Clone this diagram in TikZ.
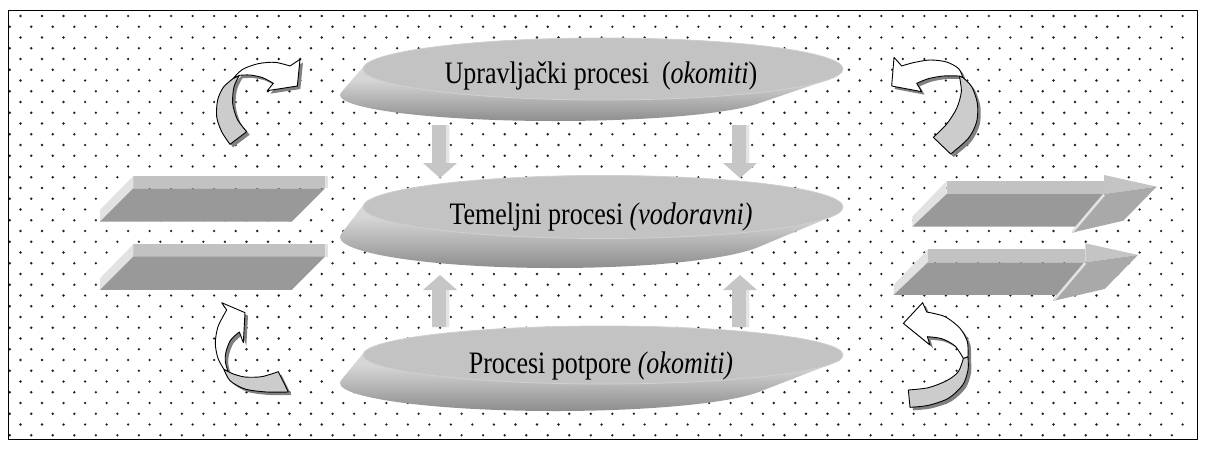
\documentclass[tikz,border=0pt]{standalone}
\usepackage{fontspec}
\setmainfont{Liberation Serif}
\usepackage{graphicx}
\definecolor{face}{HTML}{C3C3C3}
\definecolor{facerim}{HTML}{D0D0D0}
\definecolor{arr}{HTML}{C6C6C6}
\definecolor{arrhl}{HTML}{E4E4E4}
\definecolor{slabfront}{HTML}{999999}
\definecolor{slabtop}{HTML}{C2C2C2}
\definecolor{slabside}{HTML}{E2E2E2}
\definecolor{headfront}{HTML}{A9A9A9}
\definecolor{headtop}{HTML}{C4C4C4}
\definecolor{band}{HTML}{CCCCCC}
\definecolor{shadowc}{HTML}{808080}
\definecolor{dotc}{HTML}{202020}
\definecolor{sTop}{HTML}{D6D6D6}
\definecolor{sMid}{HTML}{AEAEAE}
\definecolor{sBot}{HTML}{8C8C8C}
\newcommand{\curvyarrow}[3]{%
  \begin{scope}[#1]
    \fill[shadowc, shift={(9,9)}] #2;
    \fill[shadowc, shift={(9,9)}] #3;
    \filldraw[fill=band, draw=black, line width=0.9pt] #2;
    \filldraw[fill=white, draw=black, line width=0.9pt] #3;
  \end{scope}}
\newcommand{\leftslab}[1]{%
  \begin{scope}[#1]
    \fill[slabtop] (130,18) -- (705,18) -- (705,55) -- (130,55) -- cycle;
    \fill[slabside] (705,18) -- (713,18) -- (713,55) -- (705,55) -- cycle;
    \fill[slabside] (30,120) -- (130,18) -- (130,55) -- (30,155) -- cycle;
    \fill[slabfront] (30,155) -- (605,155) -- (705,55) -- (130,55) -- cycle;
  \end{scope}}
\newcommand{\rightarrowslab}[1]{%
  \begin{scope}[#1]
    \fill[slabside] (97,140) -- (200,33) -- (200,72) -- (97,170) -- cycle;
    \fill[slabtop] (200,33) -- (672,33) -- (672,72) -- (200,72) -- cycle;
    \fill[slabfront] (97,170) -- (200,72) -- (672,72) -- (590,170) -- cycle;
    \fill[headtop] (672,15) -- (830,50) -- (672,72) -- cycle;
    \fill[headfront] (672,72) -- (830,50) -- (730,152) -- (575,188) -- cycle;
    \draw[slabside, line width=2.5pt] (578,185) -- (672,74);
  \end{scope}}
% #1 face cy, #2 dy of back centre, #3 face ry, #4 back ry
\newcommand{\disc}[4]{%
  \begin{scope}
    \clip \foreach \i in {0,...,25}{ ({603-48*\i/25},{#1+#2*\i/25}) ellipse [x radius={240-25*\i/25}, y radius={#3+(#4-#3)*\i/25}] };
    \shade[top color=sTop, middle color=sMid, bottom color=sBot] (330,{#1+10}) rectangle (850,{#1+#2+#4+1});
    \fill[sTop] (330,{#1-#3-2}) rectangle (850,{#1+10});
  \end{scope}
  \filldraw[fill=face, draw=facerim, line width=0.8pt] (603,#1) ellipse [x radius=240, y radius=#3];}
\begin{document}
\begin{tikzpicture}[x=1pt, y=-1pt, line join=round]
\useasboundingbox (0,0) rectangle (1206,448);
\fill[white] (0,0) rectangle (1206,448);
% dot pattern
\foreach \r in {0,...,39}{
  \pgfmathsetmacro\yy{16+10.75*\r}
  \pgfmathsetmacro\xs{isodd(\r) ? 9.74 : 20.5}
  \fill[dotc] \foreach \c in {0,...,54}{ ({\xs+21.52*\c},\yy) circle (1.3pt) };
}
% frame
\draw[line width=1.6pt] (8.5,10.5) rectangle (1197.5,439.5);

% ellipses (3D discs)
\disc{69}{26}{31}{26}
\node[anchor=base, font=\fontsize{26}{30}\selectfont, inner sep=0pt] (upr) at (601,83) {\scalebox{1}[1.2]{Upravljački procesi \ (\textit{okomiti})}};
\disc{207}{30}{31.5}{31}
\node[anchor=base, font=\fontsize{26}{30}\selectfont, inner sep=0pt] (tem) at (601,224) {\scalebox{1}[1.2]{Temeljni procesi \textit{(vodoravni)}}};
\disc{355}{28}{29}{28}
\node[anchor=base, font=\fontsize{26}{30}\selectfont, inner sep=0pt] (pot) at (601,373) {\scalebox{1}[1.2]{Procesi potpore \textit{(okomiti)}}};

% small vertical arrows
\foreach \cx in {440,740}{
  \fill[arr] ({\cx-8},125) -- ({\cx+9},125) -- ({\cx+9},163) -- ({\cx+17},163) -- (\cx,178) -- ({\cx-17},163) -- ({\cx-8},163) -- cycle;
  \fill[arrhl] ({\cx+6},125) -- ({\cx+9},125) -- ({\cx+9},163) -- ({\cx+6},163) -- cycle;
  \fill[arr] ({\cx-8},327) -- ({\cx+9},327) -- ({\cx+9},290) -- ({\cx+17},290) -- (\cx,275) -- ({\cx-17},290) -- ({\cx-8},290) -- cycle;
  \fill[arrhl] ({\cx+6},327) -- ({\cx+9},327) -- ({\cx+9},290) -- ({\cx+6},290) -- cycle;
}

% left slabs
\leftslab{shift={(90,170)}, scale=1/3}
\leftslab{shift={(90,238.3)}, scale=1/3}
% right slab arrows
\rightarrowslab{shift={(880,170)}, scale=1/3}
\rightarrowslab{shift={(861.3,238.3)}, scale=1/3}

% curved arrows
% top left
\curvyarrow{shift={(190,50)}, scale=1/3}
{plot[smooth] coordinates {(130,85) (100,112) (83,150) (80,200) (95,245) (120,283)} -- (170,245) -- plot[smooth] coordinates {(170,245) (142,208) (128,160) (132,110) (148,76)} -- cycle}
{plot[smooth] coordinates {(130,85) (158,58) (205,41) (255,37) (300,48)} -- (330,28) -- (322,108) -- (232,122) -- (250,100) -- plot[smooth] coordinates {(250,100) (218,83) (180,75) (148,76)} -- cycle}
% top right
\curvyarrow{shift={(880,50)}, scale=1/3}
{plot[smooth] coordinates {(248,82) (275,110) (292,160) (290,215) (265,265) (212,312)} -- (160,262) -- plot[smooth] coordinates {(160,262) (200,222) (230,175) (244,125) (238,78)} -- cycle}
{plot[smooth] coordinates {(248,82) (236,56) (200,36) (150,30) (100,38) (65,48)} -- (42,22) -- (35,108) -- (125,125) -- (110,100) -- plot[smooth] coordinates {(110,100) (145,86) (190,78) (238,78)} -- cycle}
% bottom left
\curvyarrow{shift={(190,290)}, scale=1/3}
{plot[smooth] coordinates {(102,238) (120,272) (165,297) (230,306) (295,306)} -- (265,245) -- plot[smooth] coordinates {(265,245) (215,260) (165,261) (130,252) (114,244)} -- cycle}
{plot[smooth] coordinates {(102,238) (84,205) (76,160) (84,110) (110,60)} -- (95,38) -- (165,68) -- (160,158) -- (148,126) -- plot[smooth] coordinates {(148,126) (122,150) (108,185) (106,215) (114,244)} -- cycle}
% bottom right
\curvyarrow{shift={(880,290)}, scale=1/3}
{plot[smooth] coordinates {(264,200) (264,240) (248,285) (205,325) (145,346) (90,352)} -- (85,300) -- plot[smooth] coordinates {(85,300) (145,293) (200,272) (235,245) (250,205)} -- cycle}
{plot[smooth] coordinates {(264,200) (262,155) (240,115) (195,80) (140,66)} -- (128,38) -- (70,100) -- (150,165) -- (142,140) -- plot[smooth] coordinates {(142,140) (185,146) (225,168) (250,205)} -- cycle}
\end{tikzpicture}
\end{document}
